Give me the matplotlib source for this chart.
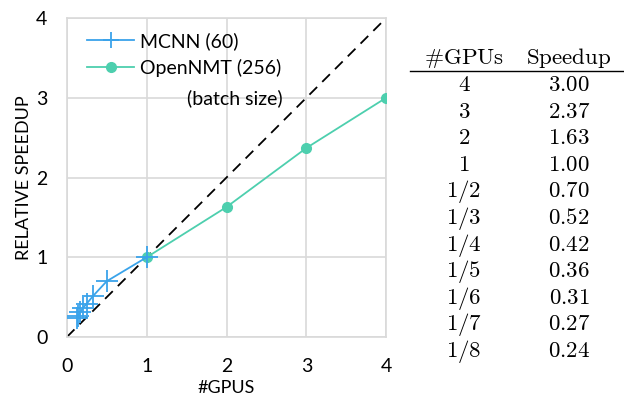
import matplotlib.pyplot as plt

plt.rcParams['mathtext.fontset'] = 'cm'

# speedup relative to a single GPU
mcnn_gpus = [1/8, 1/7, 1/6, 1/5, 1/4, 1/3, 1/2, 1]
mcnn_speedup = [0.24, 0.27, 0.31, 0.36, 0.42, 0.52, 0.70, 1.00]
nmt_gpus = [1, 2, 3, 4]
nmt_speedup = [1.00, 1.63, 2.37, 3.00]

table_gpus = ['4', '3', '2', '1', '1/2', '1/3', '1/4', '1/5', '1/6', '1/7', '1/8']
table_speedup = ['3.00', '2.37', '1.63', '1.00', '0.70', '0.52', '0.42',
                 '0.36', '0.31', '0.27', '0.24']

sans = ['Lato', 'DejaVu Sans']

fig = plt.figure(figsize=(6.24, 3.98), dpi=100)
ax = fig.add_axes([0.107, 0.153, 0.512, 0.802])

ax.plot([0, 4], [0, 4], color='black', linestyle=(0, (6, 4)), linewidth=1.3, zorder=2)
ax.plot(mcnn_gpus, mcnn_speedup, color='#3aa3ea', marker='+', markersize=16,
        markeredgewidth=1.3, linewidth=1.3, label='MCNN (60)', zorder=4)
ax.plot(nmt_gpus, nmt_speedup, color='#4dcfae', marker='o', markersize=7,
        linewidth=1.3, label='OpenNMT (256)', zorder=3)

ax.set_xlim(0, 4)
ax.set_ylim(0, 4)
ax.set_xticks([0, 1, 2, 3, 4])
ax.set_yticks([0, 1, 2, 3, 4])
ax.grid(True, color='#d9d9d9', linewidth=1.2, zorder=0)
for s in ax.spines.values():
    s.set_color('#d9d9d9')
    s.set_linewidth(1.2)
ax.tick_params(axis='x', length=0, labelsize=14, pad=15)
ax.tick_params(axis='y', length=0, labelsize=14, pad=14)
for lab in ax.get_xticklabels() + ax.get_yticklabels():
    lab.set_family(sans)
ax.set_xlabel('#GPUS', fontsize=13, family=sans, labelpad=4)
ax.set_ylabel('RELATIVE SPEEDUP', fontsize=13, family=sans, labelpad=3)

mcnn_handle = plt.Line2D([], [], color='#3aa3ea', marker='+', markersize=12,
                         markeredgewidth=1.3, linewidth=1.3)
nmt_handle = plt.Line2D([], [], color='#4dcfae', marker='o', markersize=7, linewidth=1.3)
leg = ax.legend([mcnn_handle, nmt_handle], ['MCNN (60)', 'OpenNMT (256)'],
                loc='upper left', bbox_to_anchor=(0.01, 1.01), frameon=False,
                prop={'family': sans, 'size': 14}, handlelength=2.4,
                handletextpad=0.3, labelspacing=0.45)
leg.set_zorder(5)
ax.text(0.677, 0.75, '(batch size)', transform=ax.transAxes, ha='right', va='center',
        fontsize=14, family=sans)

# speedup table on the right
col_x = [464 / 624, 569 / 624]
fig.text(col_x[0], 1 - 64 / 398, r'$\#\mathrm{GPUs}$', ha='center', va='baseline', fontsize=16.5)
fig.text(col_x[1], 1 - 64 / 398, r'$\mathrm{Speedup}$', ha='center', va='baseline', fontsize=16.5)
fig.add_artist(plt.Line2D([410 / 624, 624 / 624], [1 - 70.5 / 398, 1 - 70.5 / 398],
                          color='black', linewidth=1.0))
for i, (g, s) in enumerate(zip(table_gpus, table_speedup)):
    y = 1 - (91 + i * 26.6) / 398
    fig.text(col_x[0], y, '$' + g + '$', ha='center', va='baseline', fontsize=16.5)
    fig.text(col_x[1], y, '$' + s + '$', ha='center', va='baseline', fontsize=16.5)

fig.savefig('out.png', dpi=100)
